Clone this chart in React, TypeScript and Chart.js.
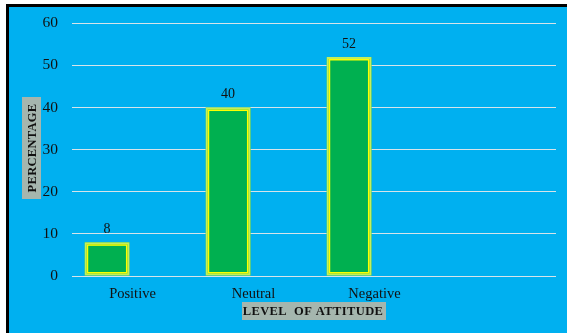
import React, { useEffect, useRef } from "react";
import { Chart, registerables } from "chart.js";

Chart.register(...registerables);

const categories = ["Positive", "Neutral", "Negative", ""];
const percentages: (number | null)[] = [8, 40, 52, null];
const emptySeries: (number | null)[] = [null, null, null, null];
const yMin = 0;
const yMax = 60;
const yStep = 10;
const yTitle = "PERCENTAGE";
const xTitle = "LEVEL  OF ATTITUDE";

const W = 567;
const H = 333;

const framePlugin = {
  id: "frame",
  beforeDraw(chart: any) {
    const ctx = chart.ctx;
    ctx.save();
    ctx.fillStyle = "#ffffff";
    ctx.fillRect(0, 0, W, H);
    ctx.fillStyle = "#000000";
    ctx.fillRect(6, 4, W - 6, H - 4);
    ctx.fillStyle = "#00B0F0";
    ctx.fillRect(9, 7, W - 9, H - 7);
    ctx.restore();
  },
  afterDatasetsDraw(chart: any) {
    const ctx = chart.ctx;
    const meta = chart.getDatasetMeta(0);
    ctx.save();
    meta.data.forEach((bar: any, i: number) => {
      const v = percentages[i];
      if (v == null) return;
      const left = bar.x - bar.width / 2;
      const right = bar.x + bar.width / 2;
      const top = bar.y;
      const bottom = bar.base;
      // outer light lime border
      ctx.strokeStyle = "#c4ee5c";
      ctx.lineWidth = 2;
      ctx.strokeRect(left + 1, top + 1, right - left - 2, bottom - top - 2);
      // inner yellow line
      ctx.strokeStyle = "#ffff00";
      ctx.lineWidth = 1.5;
      ctx.strokeRect(left + 2.75, top + 2.75, right - left - 5.5, bottom - top - 5.5);
      // value label
      ctx.fillStyle = "#111111";
      ctx.font = "14px 'Liberation Serif', serif";
      ctx.textAlign = "center";
      ctx.textBaseline = "middle";
      ctx.fillText(String(v), bar.x, top - 13);
    });
    ctx.restore();
  },
  afterDraw(chart: any) {
    const ctx = chart.ctx;
    ctx.save();
    // Y title box
    ctx.fillStyle = "#a5b6ae";
    ctx.fillRect(22, 97, 19, 102);
    ctx.translate(31.5, 148);
    ctx.rotate(-Math.PI / 2);
    ctx.fillStyle = "#111111";
    ctx.font = "bold 12.5px 'Liberation Serif', serif";
    (ctx as any).letterSpacing = "0.3px";
    ctx.textAlign = "center";
    ctx.textBaseline = "middle";
    ctx.fillText(yTitle, 0, 1);
    ctx.restore();

    ctx.save();
    ctx.fillStyle = "#a5b6ae";
    ctx.fillRect(242, 302, 144, 18);
    ctx.fillStyle = "#111111";
    ctx.font = "bold 12.5px 'Liberation Serif', serif";
    (ctx as any).letterSpacing = "0.4px";
    ctx.textAlign = "center";
    ctx.textBaseline = "middle";
    ctx.fillText(xTitle, 313, 312);
    ctx.restore();
  },
};

export default function App() {
  const ref = useRef<HTMLCanvasElement | null>(null);

  useEffect(() => {
    document.body.style.margin = "0";
    if (!ref.current) return;
    const chart = new Chart(ref.current, {
      type: "bar",
      data: {
        labels: categories,
        datasets: [
          {
            data: percentages,
            backgroundColor: "#00B050",
            borderWidth: 0,
            categoryPercentage: 0.84,
            barPercentage: 0.88,
          },
          {
            data: emptySeries,
            backgroundColor: "#00B050",
            borderWidth: 0,
            categoryPercentage: 0.84,
            barPercentage: 0.88,
          },
        ],
      },
      options: {
        responsive: false,
        animation: false,
        layout: { padding: { left: 0, right: 11, top: 20, bottom: 0 } },
        plugins: {
          legend: { display: false },
          tooltip: { enabled: false },
          title: { display: false },
        },
        scales: {
          x: {
            offset: true,
            grid: { display: false, drawTicks: false },
            border: { display: false },
            ticks: {
              padding: 9,
              color: "#111111",
              font: { family: "'Liberation Serif', serif", size: 14.5 },
              maxRotation: 0,
            },
            afterFit(scale: any) {
              scale.height = 57;
            },
          },
          y: {
            min: yMin,
            max: yMax,
            ticks: {
              stepSize: yStep,
              padding: 14,
              color: "#111111",
              font: { family: "'Liberation Serif', serif", size: 15.5 },
            },
            grid: { color: "#d6e4ea", lineWidth: 1, drawTicks: false },
            border: { display: false },
            afterFit(scale: any) {
              scale.width = 72;
            },
          },
        },
      },
      plugins: [framePlugin],
    });
    return () => chart.destroy();
  }, []);

  return (
    <div style={{ width: W, height: H, margin: 0 }}>
      <canvas ref={ref} width={W} height={H} style={{ display: "block", width: W, height: H }} />
    </div>
  );
}
